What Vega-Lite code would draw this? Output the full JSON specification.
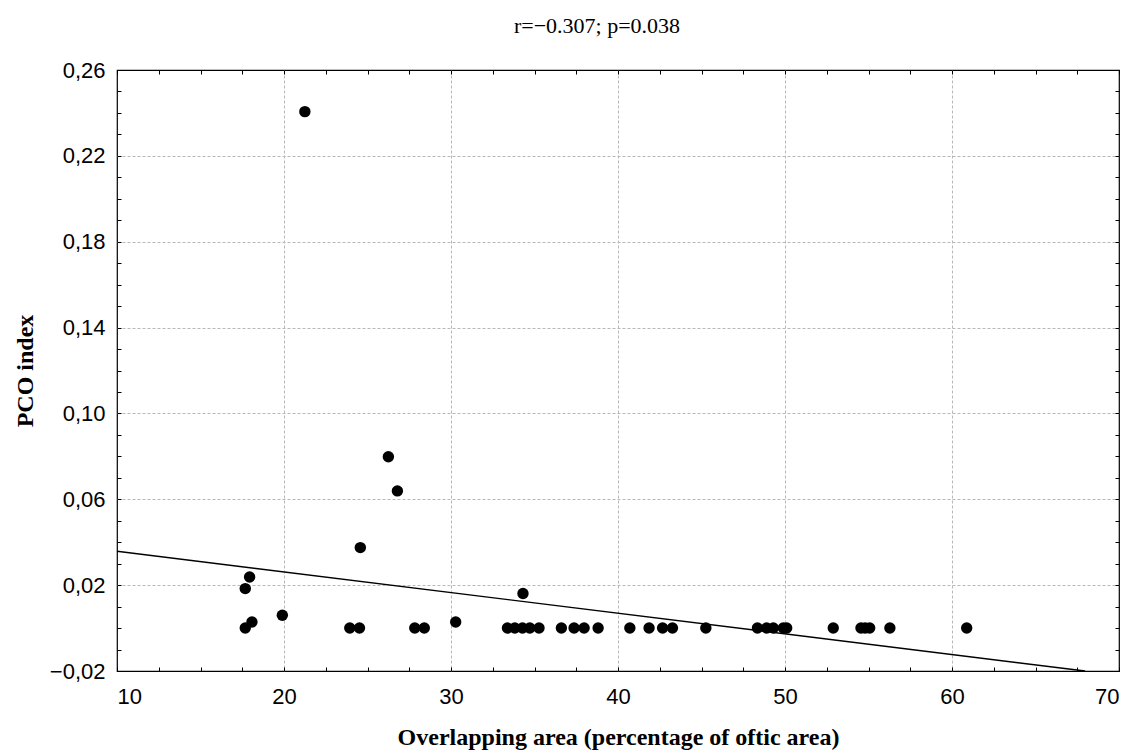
{
  "$schema": "https://vega.github.io/schema/vega-lite/v6.json",
  "width": 1002,
  "height": 601,
  "autosize": "none",
  "padding": {"left": 117, "top": 70, "right": 16, "bottom": 82},
  "background": "white",
  "title": {"text": "r=−0.307; p=0.038", "font": "Liberation Serif", "fontSize": 22, "fontWeight": "normal", "color": "black", "offset": 21, "dx": -21},
  "config": {
    "view": {"stroke": "black", "strokeWidth": 1.2},
    "axis": {
      "labelFont": "Liberation Sans",
      "labelFontSize": 22,
      "labelColor": "black",
      "titleFont": "Liberation Serif",
      "titleFontSize": 24,
      "titleFontWeight": "bold",
      "titleColor": "black",
      "domain": false,
      "tickColor": "black",
      "tickSize": -4,
      "tickWidth": 1,
      "gridColor": "#b8b8b8",
      "gridDash": [3, 2],
      "gridWidth": 1
    }
  },
  "datasets": {
    "pts": [
      {"x": 21.25, "y": 0.2406},
      {"x": 26.25, "y": 0.0798},
      {"x": 26.79, "y": 0.0639},
      {"x": 24.57, "y": 0.0375},
      {"x": 17.94, "y": 0.0238},
      {"x": 17.68, "y": 0.0184},
      {"x": 17.68, "y": 0.0},
      {"x": 18.08, "y": 0.0028},
      {"x": 19.9, "y": 0.006},
      {"x": 23.94, "y": 0.0},
      {"x": 24.52, "y": 0.0},
      {"x": 27.83, "y": 0.0},
      {"x": 28.4, "y": 0.0},
      {"x": 30.28, "y": 0.0028},
      {"x": 34.31, "y": 0.0161},
      {"x": 33.38, "y": 0.0},
      {"x": 33.82, "y": 0.0},
      {"x": 34.28, "y": 0.0},
      {"x": 34.72, "y": 0.0},
      {"x": 35.27, "y": 0.0},
      {"x": 36.61, "y": 0.0},
      {"x": 37.37, "y": 0.0},
      {"x": 37.97, "y": 0.0},
      {"x": 38.81, "y": 0.0},
      {"x": 40.71, "y": 0.0},
      {"x": 41.86, "y": 0.0},
      {"x": 42.67, "y": 0.0},
      {"x": 43.26, "y": 0.0},
      {"x": 45.26, "y": 0.0},
      {"x": 48.35, "y": 0.0},
      {"x": 48.9, "y": 0.0},
      {"x": 49.3, "y": 0.0},
      {"x": 49.9, "y": 0.0},
      {"x": 50.1, "y": 0.0},
      {"x": 52.89, "y": 0.0},
      {"x": 54.55, "y": 0.0},
      {"x": 54.8, "y": 0.0},
      {"x": 55.07, "y": 0.0},
      {"x": 56.28, "y": 0.0},
      {"x": 60.88, "y": 0.0}
    ],
    "fit": [
      {"x": 10, "y": 0.0358},
      {"x": 67.97, "y": -0.02}
    ]
  },
  "resolve": {"axis": {"x": "independent", "y": "independent"}},
  "layer": [
    {
      "data": {"name": "pts"},
      "mark": {"type": "circle", "size": 130, "color": "black", "opacity": 1},
      "encoding": {
        "x": {
          "field": "x", "type": "quantitative",
          "scale": {"domain": [10, 70], "nice": false, "zero": false},
          "axis": {
            "title": "Overlapping area (percentage of oftic area)",
            "values": [10, 12.5, 15, 17.5, 20, 22.5, 25, 27.5, 30, 32.5, 35, 37.5, 40, 42.5, 45, 47.5, 50, 52.5, 55, 57.5, 60, 62.5, 65, 67.5, 70],
            "labelExpr": "datum.value % 10 === 0 ? format(datum.value, 'd') : ''",
            "labelPadding": 19,
            "titlePadding": 18,
            "grid": true,
            "gridOpacity": {"condition": {"test": "datum.value % 10 === 0 && datum.value > 10 && datum.value < 70", "value": 1}, "value": 0}
          }
        },
        "y": {
          "field": "y", "type": "quantitative",
          "scale": {"domain": [-0.02, 0.26], "nice": false, "zero": false},
          "axis": {
            "title": "PCO index",
            "values": [-0.02, -0.01, 0, 0.01, 0.02, 0.03, 0.04, 0.05, 0.06, 0.07, 0.08, 0.09, 0.1, 0.11, 0.12, 0.13, 0.14, 0.15, 0.16, 0.17, 0.18, 0.19, 0.2, 0.21, 0.22, 0.23, 0.24, 0.25, 0.26],
            "labelExpr": "(round(datum.value * 100) + 2) % 4 === 0 ? replace(format(datum.value, '.2f'), '.', ',') : ''",
            "labelPadding": 16,
            "titlePadding": 12,
            "grid": true,
            "gridOpacity": {"condition": {"test": "(round(datum.value * 100) + 2) % 4 === 0 && round(datum.value * 100) > -2 && round(datum.value * 100) < 26", "value": 1}, "value": 0}
          }
        }
      }
    },
    {
      "data": {"name": "fit"},
      "mark": {"type": "line", "color": "black", "strokeWidth": 1.4},
      "encoding": {
        "x": {
          "field": "x", "type": "quantitative",
          "scale": {"domain": [10, 70], "nice": false, "zero": false},
          "axis": {
            "orient": "top", "title": null, "labels": false, "grid": false,
            "values": [10, 12.5, 15, 17.5, 20, 22.5, 25, 27.5, 30, 32.5, 35, 37.5, 40, 42.5, 45, 47.5, 50, 52.5, 55, 57.5, 60, 62.5, 65, 67.5, 70]
          }
        },
        "y": {
          "field": "y", "type": "quantitative",
          "scale": {"domain": [-0.02, 0.26], "nice": false, "zero": false},
          "axis": {
            "orient": "right", "title": null, "labels": false, "grid": false,
            "values": [-0.02, -0.01, 0, 0.01, 0.02, 0.03, 0.04, 0.05, 0.06, 0.07, 0.08, 0.09, 0.1, 0.11, 0.12, 0.13, 0.14, 0.15, 0.16, 0.17, 0.18, 0.19, 0.2, 0.21, 0.22, 0.23, 0.24, 0.25, 0.26]
          }
        }
      }
    }
  ]
}
